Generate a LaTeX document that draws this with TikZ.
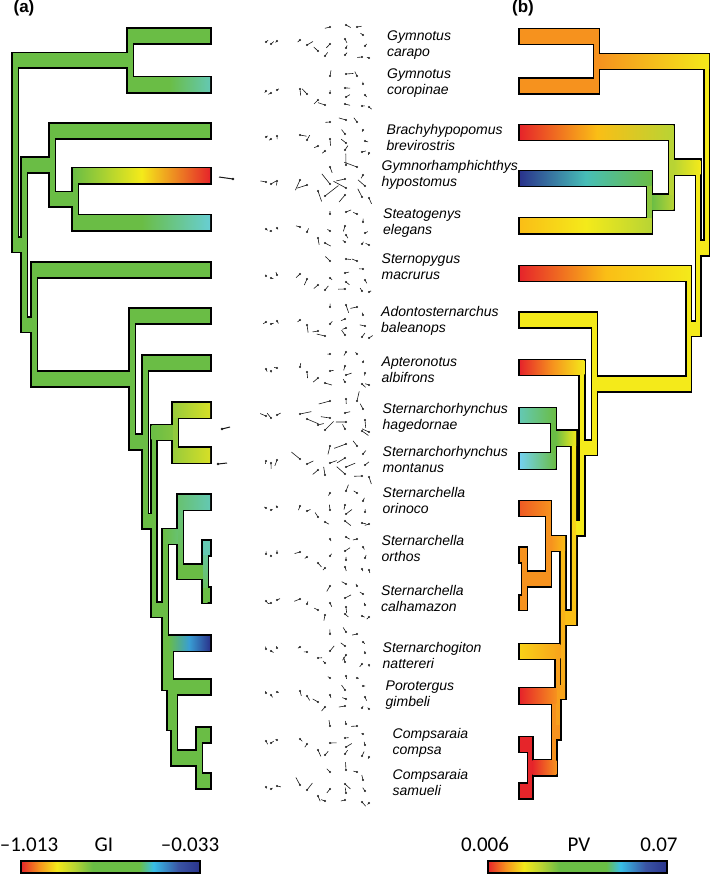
\documentclass[tikz,border=0pt]{standalone}
\usepackage{fontspec}
\setmainfont{Liberation Sans}
\newfontfamily\barfont{Carlito}
\usetikzlibrary{positioning}

\definecolor{specred}{RGB}{230,37,42}
\definecolor{specorange}{RGB}{246,146,30}
\definecolor{specgold}{RGB}{250,190,22}
\definecolor{specyellow}{RGB}{244,234,26}
\definecolor{specyg}{RGB}{184,212,52}
\definecolor{specgreen}{RGB}{106,189,69}
\definecolor{specteal}{RGB}{100,200,178}
\definecolor{specaqua}{RGB}{104,206,210}
\definecolor{speccyan}{RGB}{56,190,232}
\definecolor{specblue}{RGB}{58,84,164}
\definecolor{specnavy}{RGB}{42,52,140}

\pgfdeclarehorizontalshading{spectrum}{100bp}{color(0bp)=(specred); color(25bp)=(specred);
  color(30bp)=(specorange); color(35bp)=(specyellow); color(40bp)=(specyg);
  color(45bp)=(specgreen); color(58bp)=(specgreen); color(62bp)=(speccyan);
  color(69bp)=(specblue); color(75bp)=(specnavy); color(100bp)=(specnavy)}

\tikzset{
  rim/.style={draw=black, line width=3.2pt, line join=miter},
  vec/.style={line width=0.6pt, black!90},
  vecdot/.style={fill=black!90},
  taxon/.style={
    anchor=west, align=left, inner sep=0pt,
    font=\fontsize{14}{16}\selectfont\itshape,
    execute at begin node=\strut, execute at end node=\strut
  },
  panel/.style={font=\fontsize{17}{20}\selectfont\bfseries, inner sep=0pt},
  scalebar/.style={shade, shading=spectrum, draw=black, line width=1.2pt},
  barlabel/.style={font=\barfont\fontsize{21}{24}\selectfont, anchor=base, inner sep=0pt},
}

% bars of the trees: first pass draws the black rim, second pass the colour
\newif\ifrim
\newcommand\hb[4]{% x from, x to, y, colour
  \ifrim\draw[rim] (#1,#3-7) rectangle (#2,#3+7);%
  \else\path[#4] (#1,#3-7) rectangle (#2,#3+7);\fi}
\newcommand\vb[4]{% node x, y top, y bottom, colour
  \ifrim\draw[rim] (#1,#2-7) rectangle (#1+4.5,#3+7);%
  \else\path[#4] (#1,#2-7) rectangle (#1+4.5,#3+7);\fi}

% (a) GI
\newcommand\treeA{%
  \vb{13}{60.5}{244.7}{fill=specgreen}
  \hb{13}{128}{60.5}{fill=specgreen}
  \hb{13}{22}{244.7}{fill=specgreen}
  % Gymnotus
  \vb{128}{36}{85}{fill=specgreen}
  \hb{128}{210}{36}{fill=specgreen}
  \hb{128}{210}{85}{left color=specgreen, right color=specteal, middle color=specgreen}
  % Rhamphichthyoidea
  \vb{22}{165}{324.5}{fill=specgreen}
  \hb{22}{50}{165}{fill=specgreen}
  \vb{50}{131}{199.5}{fill=specgreen}
  \hb{50}{210}{131}{fill=specgreen}
  \hb{50}{73}{199.5}{fill=specgreen}
  \vb{73}{176}{223}{fill=specgreen}
  \hb{73}{210}{176}{left color=specgreen, right color=specred, middle color=specyellow}
  \hb{73}{210}{223}{left color=specgreen, right color=specaqua, middle color=specgreen}
  % Sternopygus + Apteronotidae
  \hb{22}{32}{324.5}{fill=specgreen}
  \vb{32}{270}{379}{fill=specgreen}
  \hb{32}{210}{270}{fill=specgreen}
  \hb{32}{130}{379}{fill=specgreen}
  \vb{130}{316}{442}{fill=specgreen}
  \hb{130}{210}{316}{fill=specgreen}
  \hb{130}{143}{442}{fill=specgreen}
  \vb{143}{363}{521.1}{fill=specgreen}
  \hb{143}{210}{363}{fill=specgreen}
  \hb{143}{151.5}{521.1}{fill=specgreen}
  \vb{151.5}{432.5}{609.75}{fill=specgreen}
  % Sternarchorhynchus
  \hb{151.5}{173}{432.5}{left color=specgreen, right color=specgreen!70!specyg}
  \vb{173}{410}{455}{fill=specgreen!50!specyg}
  \hb{173}{210}{410}{left color=specgreen!40!specyg, right color=specyg!50!specyellow}
  \hb{173}{210}{455}{left color=specgreen!40!specyg, right color=specyg!50!specyellow}
  % Sternarchella
  \hb{151.5}{163}{609.75}{fill=specgreen}
  \vb{163}{536.75}{682.75}{fill=specgreen}
  \hb{163}{178}{536.75}{left color=specgreen, right color=specgreen!60!specteal}
  \vb{178}{502}{571.5}{top color=specgreen!40!specteal, bottom color=specgreen}
  \hb{178}{210}{502}{left color=specgreen!60!specteal, right color=specteal}
  \hb{178}{203}{571.5}{fill=specgreen}
  \vb{203}{548}{595}{top color=specteal, bottom color=specgreen}
  \hb{203}{210}{548}{fill=specteal}
  \hb{203}{210}{595}{fill=specgreen}
  % Sternarchogiton, Porotergus, Compsaraia
  \hb{163}{168}{682.75}{fill=specgreen}
  \vb{168}{643}{722.5}{fill=specgreen}
  \hb{168}{210}{643}{left color=specgreen, right color=specnavy, middle color=speccyan!70!specblue}
  \hb{168}{172}{722.5}{fill=specgreen}
  \vb{172}{687}{758}{fill=specgreen}
  \hb{172}{210}{687}{fill=specgreen}
  \hb{172}{197}{758}{fill=specgreen}
  \vb{197}{735}{781}{fill=specgreen}
  \hb{197}{210}{735}{fill=specgreen}
  \hb{197}{210}{781}{fill=specgreen}
}

% (b) PV, drawn mirrored; colours read left to right on the page
\newcommand\treeB{%
  \vb{13}{60.5}{244.7}{fill=specyellow}
  \hb{13}{128}{60.5}{left color=specorange, right color=specyellow}
  \hb{13}{22}{244.7}{fill=specyellow}
  % Gymnotus
  \vb{128}{36}{85}{fill=specorange}
  \hb{128}{210}{36}{fill=specorange}
  \hb{128}{210}{85}{fill=specorange}
  % Rhamphichthyoidea
  \vb{22}{165}{324.5}{fill=specyellow}
  \hb{22}{50}{165}{left color=specyg, right color=specyellow}
  \vb{50}{131}{199.5}{fill=specyg}
  \hb{50}{210}{131}{left color=specred, right color=specyg, middle color=specgold}
  \hb{50}{73}{199.5}{left color=specgreen, right color=specyg}
  \vb{73}{176}{223}{fill=specgreen!60!specyg}
  \hb{73}{210}{176}{left color=specnavy, right color=specgreen, middle color=speccyan!70!specgreen}
  \hb{73}{210}{223}{left color=specgold, right color=specyg, middle color=specyellow}
  % Sternopygus + Apteronotidae
  \hb{22}{32}{324.5}{fill=specyellow}
  \vb{32}{270}{379}{fill=specyellow}
  \hb{32}{210}{270}{left color=specred, right color=specyellow, middle color=specgold}
  \hb{32}{130}{379}{fill=specyellow}
  \vb{130}{316}{442}{fill=specyellow}
  \hb{130}{210}{316}{fill=specyellow}
  \hb{130}{143}{442}{fill=specyellow}
  \vb{143}{363}{521.1}{fill=specyellow}
  \hb{143}{210}{363}{left color=specred, right color=specyellow, middle color=specorange}
  \hb{143}{151.5}{521.1}{fill=specyellow}
  \vb{151.5}{432.5}{609.75}{top color=specyellow, bottom color=specgold}
  % Sternarchorhynchus
  \hb{151.5}{173}{432.5}{left color=specgreen, right color=specyellow}
  \vb{173}{410}{455}{fill=specgreen}
  \hb{173}{210}{410}{left color=specteal, right color=specgreen}
  \hb{173}{210}{455}{left color=speccyan!70!white, right color=specgreen}
  % Sternarchella
  \hb{151.5}{163}{609.75}{fill=specgold}
  \vb{163}{536.75}{682.75}{top color=specgold, bottom color=specorange!50!specgold}
  \hb{163}{178}{536.75}{left color=specorange, right color=specgold}
  \vb{178}{502}{571.5}{fill=specorange}
  \hb{178}{210}{502}{left color=specred!50!specorange, right color=specorange}
  \hb{178}{203}{571.5}{fill=specorange}
  \vb{203}{548}{595}{fill=specorange}
  \hb{203}{210}{548}{fill=specorange}
  \hb{203}{210}{595}{fill=specorange}
  % Sternarchogiton, Porotergus, Compsaraia
  \hb{163}{168}{682.75}{fill=specorange!60!specgold}
  \vb{168}{643}{722.5}{fill=specorange!70!specgold}
  \hb{168}{210}{643}{left color=specgold!60!specyellow, right color=specorange!60!specgold}
  \hb{168}{172}{722.5}{fill=specorange}
  \vb{172}{687}{758}{fill=specorange}
  \hb{172}{210}{687}{left color=specred, right color=specorange}
  \hb{172}{197}{758}{left color=specred, right color=specorange}
  \vb{197}{735}{781}{fill=specred}
  \hb{197}{210}{735}{fill=specred}
  \hb{197}{210}{781}{fill=specred}
}

\begin{document}
\begin{tikzpicture}[x=1pt, y=-1pt]
  \useasboundingbox (0,0) rectangle (709,874);

  % ── Tree (a) ──
  \rimtrue\treeA
  \rimfalse\treeA

  % ── Tree (b) ──
  \begin{scope}[xshift=721.6pt, x=-0.96pt, yscale=1.013]
    \rimtrue\treeB
    \rimfalse\treeB
  \end{scope}

  % ── Landmark displacement vectors ──
  \pgfmathsetseed{4217}
  \foreach \ty/\sc in {36/1,85/1,131/1,176/2.4,223/1,270/1,316/1.2,363/1,410/1.7,
                       455/1.7,502/1,548/0.8,595/0.9,643/0.9,687/0.9,735/1,781/1.2}{
    \foreach \lx/\ldy/\w in {266/6/0.5,271/8/0.5,277/5/0.5,300/4/1,307/9/1,318/15/1,
                             330/-9/1,346/-11/1,357/-9/0.8,363/-1/0.6,345/3/1,
                             330/8/1,346/12/1,365/10/0.7,325/20/1,345/19/1,362/21/0.7,369/22/0.6}{
      \pgfmathsetmacro\ang{360*rnd}
      \pgfmathsetmacro\len{\sc*\w*(2.5+5*rnd)}
      \draw[vec] ({\lx},{\ty+(\ldy)}) -- ++(\ang:\len);
      \fill[vecdot] ({\lx},{\ty+(\ldy)}) circle (1.2);
    }
  }
  \draw[vec, line width=1pt] (219,177) -- (233,179);
  \fill[vecdot] (233,179) circle (1.3);
  \draw[vec, line width=1pt] (222,429) -- (230,427);
  \fill[vecdot] (222,429) circle (1.3);
  \draw[vec, line width=1pt] (218,464) -- (227,463);
  \fill[vecdot] (218,464) circle (1.3);

  % ── Taxa ──
  \node[taxon] (carapo)     at (387,46)    {Gymnotus\\carapo};
  \node[taxon] (coropinae)  at (387,84.5)  {Gymnotus\\coropinae};
  \node[taxon] (brevi)      at (386.5,140) {Brachyhypopomus\\brevirostris};
  \node[taxon] (hypost)     at (381.5,175.5) {Gymnorhamphichthys\\hypostomus};
  \node[taxon] (elegans)    at (383,224.5) {Steatogenys\\elegans};
  \node[taxon] (macrurus)   at (381.5,269.5) {Sternopygus\\macrurus};
  \node[taxon] (baleanops)  at (381,321.5) {Adontosternarchus\\baleanops};
  \node[taxon] (albifrons)  at (381.5,372) {Apteronotus\\albifrons};
  \node[taxon] (hagedornae) at (382.5,418.5) {Sternarchorhynchus\\hagedornae};
  \node[taxon] (montanus)   at (382.5,462) {Sternarchorhynchus\\montanus};
  \node[taxon] (orinoco)    at (382.5,503) {Sternarchella\\orinoco};
  \node[taxon] (orthos)     at (381.5,551) {Sternarchella\\orthos};
  \node[taxon] (calham)     at (381,601)   {Sternarchella\\calhamazon};
  \node[taxon] (nattereri)  at (382.5,658) {Sternarchogiton\\nattereri};
  \node[taxon] (gimbeli)    at (385.5,696) {Porotergus\\gimbeli};
  \node[taxon] (compsa)     at (392.5,743.5) {Compsaraia\\compsa};
  \node[taxon] (samueli)    at (392.5,785) {Compsaraia\\samueli};

  % ── Panel letters ──
  \node[panel] (pa) at (24,8)  {(a)};
  \node[panel] (pb) at (523,8) {(b)};

  % ── Colour scales ──
  \shade[scalebar] (21,861) rectangle (200,873);
  \node[barlabel] (gimin) at (29,851)  {–1.013};
  \node[barlabel] (gi)    at (104,851) {GI};
  \node[barlabel] (gimax) at (190,851) {–0.033};
  \shade[scalebar] (488,861) rectangle (667,873);
  \node[barlabel] (pvmin) at (485,851) {0.006};
  \node[barlabel] (pv)    at (579,851) {PV};
  \node[barlabel] (pvmax) at (659,851) {0.07};
\end{tikzpicture}
\end{document}
